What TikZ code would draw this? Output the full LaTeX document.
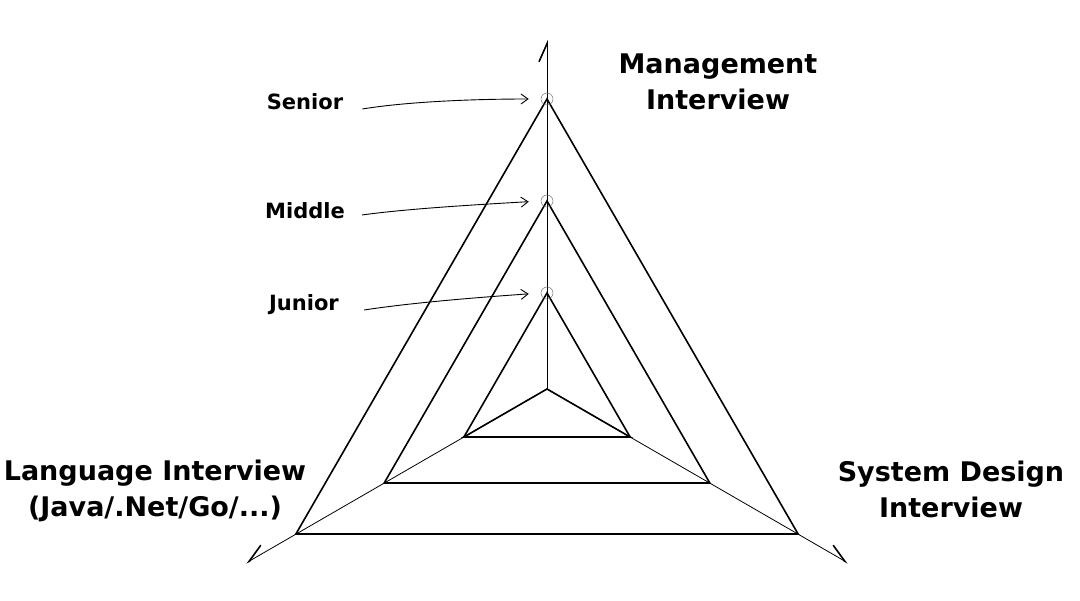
\documentclass[tikz,border=0pt]{standalone}
\usepackage{fontspec}
\setmainfont{DejaVu Sans}
\usetikzlibrary{arrows.meta,calc}
\begin{document}
\begin{tikzpicture}[x=1pt,y=-1pt,
  tri/.style={line width=1.6pt, line join=miter},
  axis/.style={line width=0.8pt},
  axarrow/.style={axis, -{Straight Barb[harpoon, length=18pt, width=16pt, line width=1.6pt]}},
  axarrowswap/.style={axis, -{Straight Barb[harpoon, swap, length=18pt, width=16pt, line width=1.6pt]}},
  lab/.style={line width=0.9pt, -{Straight Barb[length=7pt, width=10pt, line width=0.9pt]}, shorten >=12pt},
  lvl/.style={font=\fontsize{21}{25}\selectfont\bfseries, inner sep=0pt},
  head/.style={font=\fontsize{27}{36}\selectfont\bfseries, align=center, inner sep=0pt},
  ring/.style={circle, draw=black!55, line width=0.5pt, minimum size=12pt, inner sep=0pt}
]
\useasboundingbox (0,0) rectangle (1080,601);
% center and level vertices
\coordinate (O) at (547,389);
\coordinate (T1) at (547,293);   \coordinate (L1) at (463.9,437); \coordinate (R1) at (630.1,437);
\coordinate (T2) at (547,201);   \coordinate (L2) at (384.2,483); \coordinate (R2) at (709.8,483);
\coordinate (T3) at (547,99);    \coordinate (L3) at (295.9,534); \coordinate (R3) at (798.1,534);
\coordinate (AT) at (547,40);
\coordinate (AL) at (246,563);
\coordinate (AR) at (848,563);
% axes
\draw[axarrow] (O) -- (AT);
\draw[axarrowswap] (O) -- (AL);
\draw[axarrow] (O) -- (AR);
% level triangles
\draw[tri] (O) -- (L1) -- (R1) -- cycle;
\draw[tri] (T1) -- (L1) -- (R1) -- cycle;
\draw[tri] (T2) -- (L2) -- (R2) -- cycle;
\draw[tri] (T3) -- (L3) -- (R3) -- cycle;
% rings
\node[ring] (cJ) at (T1) {};
\node[ring] (cM) at (T2) {};
\node[ring] (cS) at (T3) {};
% level labels
\node[lvl] (senior) at (305,102) {Senior};
\node[lvl] (middle) at (305,211) {Middle};
\node[lvl] (junior) at (304,305) {Junior};
\draw[lab] ($(senior.east)+(19,7)$) .. controls (405,102) and (470,99) .. (cS.west);
\draw[lab] ($(middle.east)+(17,4)$) .. controls (405,209) and (470,205) .. (cM.west);
\draw[lab] ($(junior.east)+(25,5)$) .. controls (410,303) and (470,298) .. (cJ.west);
% headings
\node[head] (mgmt) at (718,82) {Management\\Interview};
\node[head] (lang) at (155,491) {Language Interview\\(Java/.Net/Go/...)};
\node[head] (sysd) at (951,489) {System Design\\Interview};
\end{tikzpicture}
\end{document}
